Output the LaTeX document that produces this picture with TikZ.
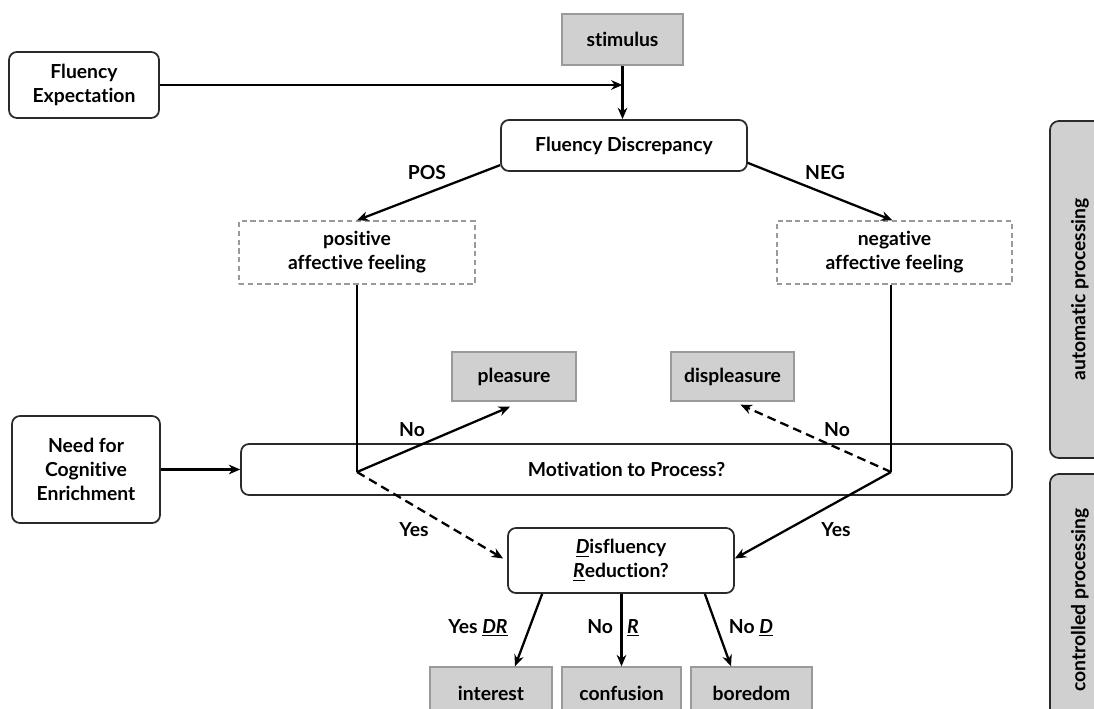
\documentclass[tikz,border=0pt]{standalone}
\usepackage{fontspec}
\setmainfont{Lato}[Ligatures={NoCommon,NoRequired,NoContextual,NoDiscretionary}]
\usetikzlibrary{arrows.meta,calc}
\definecolor{boxgray}{HTML}{D0D0D0}
\definecolor{edgegray}{HTML}{9A9A9A}
\definecolor{linedark}{HTML}{2A2A2A}
\tikzset{
  every node/.style={font=\fontsize{11}{13.6}\selectfont\bfseries, align=center, inner sep=0pt},
  rbox/.style={draw=linedark, line width=1pt, rounded corners=4.5pt, fill=white},
  gbox/.style={draw=edgegray, line width=0.8pt, fill=boxgray},
  dbox/.style={draw=edgegray, line width=0.8pt, dash pattern=on 3pt off 2pt},
  sidebox/.style={draw=linedark, line width=1pt, rounded corners=5pt, fill=boxgray},
  arr/.style={line width=1.3pt, -{Stealth[length=6.5pt,width=5.5pt]}},
  darr/.style={arr, dash pattern=on 5pt off 3pt},
  plain/.style={line width=1.3pt},
  lab/.style={}
}
\begin{document}
\begin{tikzpicture}[x=0.02cm,y=-0.02cm]
\useasboundingbox (0,0) rectangle (1094,709);
\clip (0,0) rectangle (1094,709);
% side boxes
\node[sidebox, rotate=90, minimum width=6.74cm, minimum height=1.2cm] (auto) at (1080,289.5) {automatic processing};
\node[sidebox, rotate=90, minimum width=5.04cm, minimum height=1.2cm] (ctrl) at (1080,600) {controlled processing};
% main nodes
\node[gbox, minimum width=2.42cm, minimum height=1.02cm] (stim) at (622.5,39.5) {stimulus};
\node[rbox, minimum width=3.0cm, minimum height=1.32cm] (fe) at (84,85) {Fluency\\Expectation};
\node[rbox, minimum width=4.92cm, minimum height=1.02cm] (fd) at (624,145.5) {Fluency Discrepancy};
\node[dbox, minimum width=4.72cm, minimum height=1.26cm] (pos) at (357,252.5) {positive\\affective feeling};
\node[dbox, minimum width=4.7cm, minimum height=1.26cm] (neg) at (894.5,252.5) {negative\\affective feeling};
\node[gbox, minimum width=2.48cm, minimum height=0.98cm] (pleas) at (514,376.5) {pleasure};
\node[gbox, minimum width=2.46cm, minimum height=0.98cm] (displeas) at (732.5,376.5) {displeasure};
\node[rbox, minimum width=2.96cm, minimum height=2.14cm] (nce) at (86,469.5) {Need for\\Cognitive\\Enrichment};
\node[rbox, minimum width=15.42cm, minimum height=1.02cm] (mot) at (626.5,469.5) {Motivation to Process?};
\node[rbox, minimum width=4.52cm, minimum height=1.3cm] (dr) at (621,560.5) {\underline{\textit{D}}isfluency\\\underline{\textit{R}}eduction?};
\node[gbox, minimum width=2.44cm, minimum height=1.04cm] (int) at (491,693) {interest};
\node[gbox, minimum width=2.38cm, minimum height=1.04cm] (conf) at (621.5,693) {confusion};
\node[gbox, minimum width=2.42cm, minimum height=1.04cm] (bore) at (751.5,693) {boredom};
% junction points
\coordinate (jl) at (357,472);
\coordinate (jr) at (891,472);
% connectors
\draw[arr] (fe.east) -- (fe.east -| stim.south);
\draw[arr] (stim.south) -- (stim.south |- fd.north);
\draw[arr] (fd.189) -- (pos.north);
\draw[arr] (fd.-8) -- ($(neg.north)+(-2,0)$);
\draw[plain] (pos.south) -- (jl);
\draw[plain] (neg.south -| jr) -- (jr);
\draw[arr] (jl) -- ($(pleas.south)+(-4,5)$);
\draw[darr] (jr) -- ($(displeas.south)+(8,3)$);
\draw[arr] (nce.east) -- (mot.west);
\draw[darr] (jl) -- ($(dr.west)+(-4,-2)$);
\draw[arr] (jr) -- ($(dr.east)+(0,-2)$);
\draw[arr] ($(dr.south west)+(35,0)$) -- ($(int.north)+(24,0)$);
\draw[arr] (dr.south -| conf.north) -- (conf.north);
\draw[arr] ($(dr.south east)+(-30,0)$) -- ($(bore.north)+(-20.5,0)$);
% labels
\node[lab] (lpos) at (427,173) {POS};
\node[lab] (lneg) at (825,173) {NEG};
\node[lab] (lnol) at (412,430) {No};
\node[lab] (lnor) at (837,430) {No};
\node[lab] (lyesl) at (414,530) {Yes};
\node[lab] (lyesr) at (836,530) {Yes};
\node[lab] (lydr) at (478,628) {Yes \underline{\textit{DR}}};
\node[lab] (lnr) at (613,628) {No\hspace{8pt}\underline{\textit{R}}};
\node[lab] (lnd) at (751,628) {No \underline{\textit{D}}};
\end{tikzpicture}
\end{document}
